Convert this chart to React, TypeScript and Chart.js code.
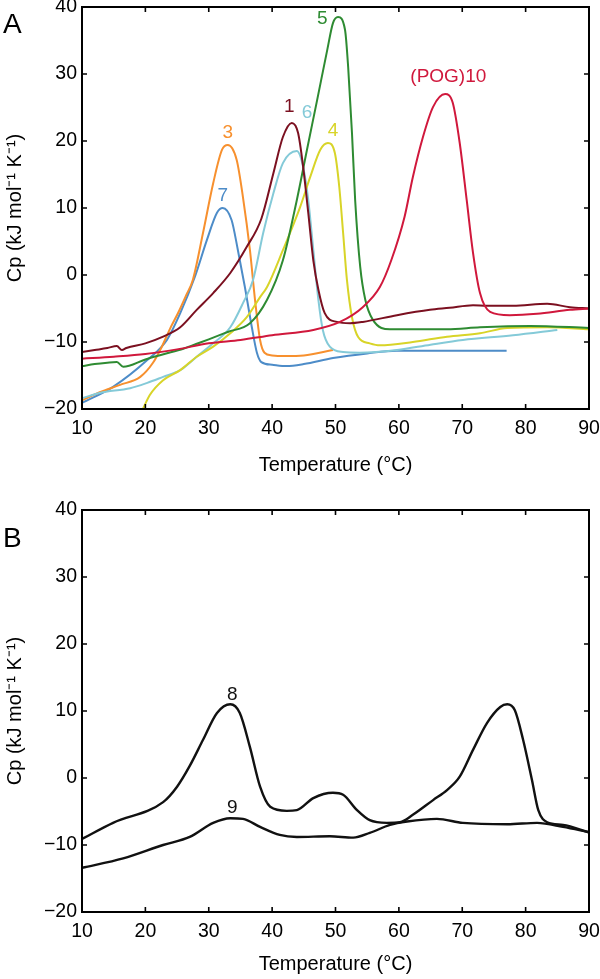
import React, { useEffect, useRef } from "react";
import { Chart, registerables } from "chart.js";

Chart.register(...registerables);

// ---------- Panel A data (Temperature °C, Cp kJ mol-1 K-1) ----------
const T1 = [10, 12, 14, 15.5, 16.3, 17, 20, 22.8, 25.5, 28.1, 30.7, 33.4, 36, 38.3, 40.2, 41.7, 43.1, 44.1, 44.9, 45.7, 46.5, 47.3, 48.3, 50.2, 52.3, 54.3, 59.7, 64.9, 68, 71.7, 73.9, 78, 83.4, 87, 90];
const C1 = [-11.5, -11.2, -10.9, -10.6, -11.2, -10.9, -10.2, -9.2, -7.8, -5.2, -2.7, 0.3, 4.2, 8.4, 15.2, 20.6, 22.7, 21.2, 16.1, 9.3, 2.2, -2.2, -5.7, -7.0, -7.2, -7.0, -6.0, -5.2, -4.9, -4.5, -4.6, -4.6, -4.3, -4.8, -5.0];

const T3 = [10, 12.8, 16, 19.2, 21.2, 22.6, 23.9, 25.2, 26.5, 27.5, 29.1, 30.7, 32.1, 33.0, 34.4, 35.4, 36.5, 37.3, 38.1, 38.8, 40, 42, 45, 49.6];
const C3 = [-18.7, -17.5, -16.4, -15.2, -13.1, -10.7, -8.0, -5.6, -2.9, -0.7, 6.3, 13.7, 18.7, 19.4, 17.2, 11.6, 3.7, -3.7, -9.7, -11.6, -12.0, -12.1, -12.0, -11.2];

const T4 = [19.6, 20.7, 22.8, 25.5, 28.1, 30.7, 33.4, 36, 38.1, 39.2, 41.7, 44.4, 46, 47.6, 48.8, 49.9, 50.6, 51.2, 51.8, 52.6, 53.6, 55.4, 57, 62.2, 67.6, 72.8, 77.1, 83.4, 90];
const C4 = [-20, -17.9, -15.7, -14.2, -12.2, -10.7, -8.7, -6.3, -3.3, -1.8, 3.7, 10.1, 14.6, 18.7, 19.7, 18.2, 13.1, 6.3, -0.7, -6.3, -9.3, -10.2, -10.5, -10.0, -9.2, -8.7, -7.9, -7.8, -8.1];

const T5 = [10, 12, 14, 15.5, 16.5, 20, 23, 26, 28, 30, 33, 36.5, 39.2, 41.7, 43.9, 45.5, 47.1, 48.7, 49.6, 50.4, 51.5, 52, 52.6, 53.1, 53.9, 54.7, 55.9, 58.6, 67.6, 72.8, 80.7, 90];
const C5 = [-13.6, -13.3, -13.1, -13.0, -13.7, -12.6, -11.8, -11.0, -10.3, -9.6, -8.5, -7.2, -3.7, 2.2, 11.2, 18.7, 26.1, 33.6, 37.6, 38.5, 36.6, 31.0, 21.2, 11.2, 1.2, -3.7, -6.7, -8.1, -8.1, -7.8, -7.6, -7.9];

const T6 = [10, 12.8, 17.6, 20.3, 22.8, 25.5, 28.1, 30.7, 33.4, 35.4, 37, 38.6, 40.2, 41.7, 43.9, 44.9, 45.7, 46.5, 47.3, 48, 49.1, 51.2, 53.8, 59.7, 65, 70.1, 78, 85];
const C6 = [-18.4, -17.6, -16.9, -16.1, -15.2, -14.2, -12.2, -10.2, -7.8, -4.2, -0.7, 6.3, 12.2, 16.7, 18.5, 16.1, 11.2, 3.7, -3.7, -8.2, -10.7, -11.5, -11.6, -11.2, -10.4, -9.7, -9.0, -8.2];

const T7 = [10, 14.9, 20.3, 23.4, 25.5, 27.8, 29.7, 31.3, 32.2, 33.6, 34.6, 35.7, 36.8, 37.6, 38.3, 40, 42.3, 45, 49.6, 55, 59.7, 65, 77];
const C7 = [-19.1, -16.7, -12.7, -9.7, -5.7, -0.3, 5.2, 9.3, 10.0, 8.2, 3.7, -1.8, -7.8, -11.6, -13.0, -13.4, -13.6, -13.3, -12.4, -11.7, -11.3, -11.3, -11.3];

const T10 = [10, 15, 20, 25, 30, 35, 40, 46.5, 50.7, 54.3, 57, 58.8, 60.9, 62.2, 63.8, 65.4, 67.3, 68.5, 69.6, 70.7, 71.7, 72.8, 74.4, 77.5, 81.8, 87, 90];
const C10 = [-12.5, -12.2, -11.8, -11.1, -10.2, -9.7, -9.0, -8.2, -7.0, -4.8, -1.8, 2.2, 8.7, 14.6, 20.6, 25.1, 27.0, 25.7, 19.7, 11.2, 3.3, -2.7, -5.5, -6.0, -5.8, -5.2, -5.0];

// ---------- Panel B data ----------
const T8 = [10, 14.9, 22.8, 25, 27, 29.1, 31.3, 33.4, 34.9, 36.5, 38.1, 39.7, 42.3, 43.9, 46.5, 49.6, 51.2, 53.4, 55.4, 58.1, 60.2, 62.2, 65.4, 67.6, 69.6, 71.7, 73.9, 76, 77.1, 78.3, 79.6, 81, 82, 83.4, 85.9, 90];
const C8 = [-9.1, -6.7, -3.6, -1.3, 1.8, 5.7, 9.7, 11.0, 9.7, 4.6, -1.3, -4.3, -4.9, -4.8, -3.0, -2.2, -2.5, -4.8, -6.3, -6.7, -6.6, -5.5, -3.3, -1.8, 0.2, 4.2, 8.2, 10.6, 11.0, 10.1, 5.7, -0.3, -4.8, -6.6, -7.0, -8.1];

const T9 = [10, 16.5, 22.8, 27, 30.7, 33.4, 35.4, 38.1, 41.2, 43.9, 49.1, 52.8, 55.4, 58.6, 61.3, 66, 70.1, 77.1, 81.8, 85.9, 90];
const C9 = [-13.4, -12.0, -10.0, -8.8, -6.7, -6.0, -6.1, -7.3, -8.5, -8.8, -8.7, -8.9, -8.2, -7.0, -6.5, -6.1, -6.7, -6.9, -6.7, -7.3, -8.1];

// ---------- Curve labels ----------
const labelTextA = ["1", "3", "4", "5", "6", "7", "(POG)10"];
const labelTA = [42.7, 33.0, 49.6, 47.9, 45.5, 32.2, 67.8];
const labelCpA = [25.1, 21.2, 21.6, 38.2, 24.2, 11.8, 29.6];

const labelTextB = ["8", "9"];
const labelTB = [33.7, 33.7];
const labelCpB = [12.4, -4.5];

// ---------- Axis ----------
const xMin = 10, xMax = 90, xStep = 10;
const yMin = -20, yMax = 40, yStep = 10;
const xTitle = "Temperature (\u00B0C)";
const yTitle = "Cp (kJ mol\u207B\u00B9 K\u207B\u00B9)";

const FONT = "'Liberation Sans', Arial, Helvetica, sans-serif";

const pts = (t: number[], c: number[]) => t.map((x, i) => ({ x, y: c[i] }));

const mkDs = (t: number[], c: number[], color: string, width: number) => ({
  data: pts(t, c),
  borderColor: color,
  borderWidth: width,
  pointRadius: 0,
  showLine: true,
  fill: false,
  cubicInterpolationMode: "monotone" as const,
});

const framePlugin = {
  id: "frame",
  afterDraw(chart: any, _args: any, opts: any) {
    const { ctx, chartArea, scales } = chart;
    const { left, right, top, bottom } = chartArea;
    const xs = scales.x, ys = scales.y;
    ctx.save();
    ctx.strokeStyle = "#000";
    ctx.lineWidth = 2;
    ctx.strokeRect(left, top, right - left, bottom - top);
    ctx.lineWidth = 1.6;
    const tl = 5;
    ctx.beginPath();
    xs.ticks.forEach((t: any) => {
      const px = xs.getPixelForValue(t.value);
      ctx.moveTo(px, bottom); ctx.lineTo(px, bottom - tl);
      ctx.moveTo(px, top); ctx.lineTo(px, top + tl);
    });
    ys.ticks.forEach((t: any) => {
      const py = ys.getPixelForValue(t.value);
      ctx.moveTo(left, py); ctx.lineTo(left + tl, py);
      ctx.moveTo(right, py); ctx.lineTo(right - tl, py);
    });
    ctx.stroke();
    // panel letter
    ctx.fillStyle = "#000";
    ctx.font = `28px ${FONT}`;
    ctx.textAlign = "left";
    ctx.textBaseline = "alphabetic";
    ctx.fillText(opts.letter, opts.letterX, opts.letterY);
    // curve labels
    ctx.font = `19px ${FONT}`;
    ctx.textAlign = "center";
    ctx.textBaseline = "middle";
    opts.texts.forEach((txt: string, i: number) => {
      ctx.fillStyle = opts.colors[i];
      ctx.fillText(txt, xs.getPixelForValue(opts.tx[i]), ys.getPixelForValue(opts.ty[i]));
    });
    ctx.restore();
  },
};

type PanelProps = {
  height: number;
  top: number;
  padTop: number;
  xAxisH: number;
  titlePadBottom: number;
  datasets: any[];
  letter: string;
  letterY: number;
  texts: string[];
  tx: number[];
  ty: number[];
  colors: string[];
};

function Panel(p: PanelProps) {
  const ref = useRef<HTMLCanvasElement | null>(null);
  useEffect(() => {
    if (!ref.current) return;
    const tickFont = { family: FONT, size: 19.5 };
    const titleFont = { family: FONT, size: 20 };
    const chart = new Chart(ref.current, {
      type: "scatter",
      data: { datasets: p.datasets },
      plugins: [framePlugin],
      options: {
        animation: false,
        responsive: false,
        maintainAspectRatio: false,
        layout: { padding: { left: 0, right: 11, top: p.padTop, bottom: 0 } },
        plugins: {
          legend: { display: false },
          tooltip: { enabled: false },
          frame: {
            letter: p.letter, letterX: 3, letterY: p.letterY,
            texts: p.texts, tx: p.tx, ty: p.ty, colors: p.colors,
          },
        } as any,
        scales: {
          x: {
            type: "linear",
            min: xMin, max: xMax,
            grid: { display: false, drawTicks: false },
            border: { display: false },
            ticks: { stepSize: xStep, padding: 8, color: "#000", font: tickFont, maxRotation: 0, autoSkip: false },
            title: { display: true, text: xTitle, color: "#000", font: titleFont, padding: { top: 0, bottom: p.titlePadBottom } },
            afterFit: (s: any) => { s.height = p.xAxisH; s.paddingLeft = 0; s.paddingRight = 0; },
          },
          y: {
            type: "linear",
            min: yMin, max: yMax,
            grid: { display: false, drawTicks: false },
            border: { display: false },
            ticks: {
              stepSize: yStep, padding: 5, color: "#000", font: tickFont,
              callback: (v: any) => String(v).replace("-", "\u2212"),
            },
            title: { display: true, text: yTitle, color: "#000", font: titleFont, padding: { top: 3, bottom: 0 } },
            afterFit: (s: any) => { s.width = 82; s.paddingTop = 0; s.paddingBottom = 0; },
          },
        },
      } as any,
    });
    return () => chart.destroy();
  }, []);
  return (
    <div style={{ position: "absolute", left: 0, top: p.top, width: 600, height: p.height }}>
      <canvas ref={ref} width={600} height={p.height} style={{ display: "block", width: 600, height: p.height }} />
    </div>
  );
}

const colMaroon = "#7b1020";
const colOrange = "#f7902e";
const colYellow = "#d8d428";
const colGreen = "#2e8b32";
const colLightBlue = "#84cad8";
const colBlue = "#4d8cc8";
const colRed = "#d0183c";

export default function App() {
  const dsA = [
    mkDs(T10, C10, colRed, 2),
    mkDs(T1, C1, colMaroon, 2),
    mkDs(T5, C5, colGreen, 2),
    mkDs(T4, C4, colYellow, 2),
    mkDs(T6, C6, colLightBlue, 2),
    mkDs(T3, C3, colOrange, 2),
    mkDs(T7, C7, colBlue, 2),
  ];
  const dsB = [mkDs(T8, C8, "#111", 2.4), mkDs(T9, C9, "#111", 2.4)];
  return (
    <div style={{ position: "absolute", left: 0, top: 0, width: 600, height: 979, background: "#fff" }}>
      <Panel
        height={490} top={0} padTop={7} xAxisH={81} titlePadBottom={13}
        datasets={dsA} letter="A" letterY={33}
        texts={labelTextA} tx={labelTA} ty={labelCpA}
        colors={[colMaroon, colOrange, colYellow, colGreen, colLightBlue, colBlue, colRed]}
      />
      <Panel
        height={489} top={490} padTop={20} xAxisH={67} titlePadBottom={3}
        datasets={dsB} letter="B" letterY={57}
        texts={labelTextB} tx={labelTB} ty={labelCpB}
        colors={["#111", "#111"]}
      />
    </div>
  );
}
